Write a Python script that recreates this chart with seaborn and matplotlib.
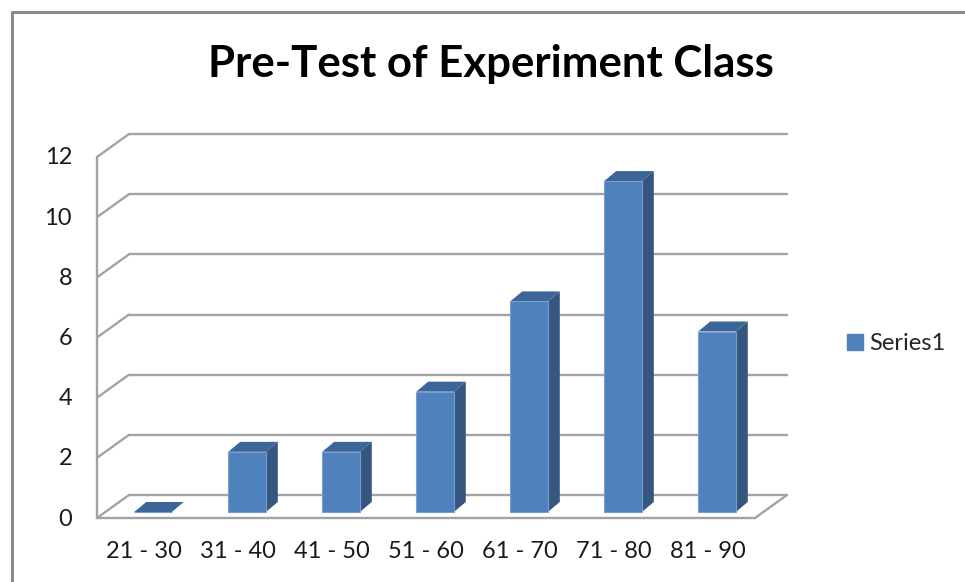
import numpy as np
import pandas as pd
import seaborn as sns
import matplotlib.pyplot as plt
from matplotlib.patches import Polygon, Patch
from matplotlib.lines import Line2D

# data (Excel 3D column chart)
categories = ['21 - 30', '31 - 40', '41 - 50', '51 - 60', '61 - 70', '71 - 80', '81 - 90']
values = [0, 2, 2, 4, 7, 11, 6]
yticks = [0, 2, 4, 6, 8, 10, 12]
series_name = 'Series1'
title = 'Pre-Test of Experiment Class'

sns.set_style('white')
plt.rcParams['font.family'] = ['Lato', 'DejaVu Sans']

W, H = 965, 582
fig = plt.figure(figsize=(W / 100, H / 100), dpi=100)
# axes = the plane of the bar front faces
ax = fig.add_axes([106 / W, 70 / H, 658 / W, 361 / H])

df = pd.DataFrame({'range': categories, 'count': values})
sns.barplot(data=df, x='range', y='count', color='#4F81BD', saturation=1,
            width=0.4, ax=ax, zorder=3, edgecolor='#7a9fcf', linewidth=0.8)
ax.set_xlim(-0.5, 6.5)
ax.set_ylim(0, 12)
ax.axis('off')

# pixels per data unit, to fake the 3d depth
ux = 658 / 7
uy = 361 / 12


def pt(x, y, dx=0, dy=0):
    return (x + dx / ux, y + dy / uy)


FRONT = (-9, -6)
BACK = (23, 17)
DEPTH = (12, 10)
grid_c = '#a3a3a3'
lw = 1.7

# back wall gridlines + left wall diagonals
for v in yticks:
    a, b = pt(-0.5, v, *BACK), pt(6.5, v, *BACK)
    ax.add_line(Line2D([a[0], b[0]], [a[1], b[1]], color=grid_c, lw=lw, clip_on=False, zorder=1))
    c = pt(-0.5, v, *FRONT)
    ax.add_line(Line2D([c[0], a[0]], [c[1], a[1]], color=grid_c, lw=lw, clip_on=False, zorder=1))
    ax.text(*pt(-0.5, v, FRONT[0] - 25, FRONT[1] - 1), str(v), ha='right', va='center',
            fontsize=17, color='#1a1a1a')

# front left edge, floor front edge, floor right edge
p0, p1 = pt(-0.5, 0, *FRONT), pt(-0.5, 12, *FRONT)
ax.add_line(Line2D([p0[0], p1[0]], [p0[1], p1[1]], color=grid_c, lw=lw, clip_on=False, zorder=1))
p2 = pt(6.5, 0, *FRONT)
ax.add_line(Line2D([p0[0], p2[0]], [p0[1], p2[1]], color=grid_c, lw=lw, clip_on=False, zorder=1))
p3 = pt(6.5, 0, *BACK)
ax.add_line(Line2D([p2[0], p3[0]], [p2[1], p3[1]], color=grid_c, lw=lw, clip_on=False, zorder=1))

# side and top faces of the columns
for p in list(ax.patches):
    x0, w, h = p.get_x(), p.get_width(), p.get_height()
    side = [(x0 + w, 0), (x0 + w, h), pt(x0 + w, h, *DEPTH), pt(x0 + w, 0, *DEPTH)]
    top = [(x0, h), (x0 + w, h), pt(x0 + w, h, *DEPTH), pt(x0, h, *DEPTH)]
    ax.add_patch(Polygon(side, closed=True, fc='#34567f', ec='none', clip_on=False, zorder=2))
    ax.add_patch(Polygon(top, closed=True, fc='#3d6698', ec='none', clip_on=False, zorder=2))
    p.set_clip_on(False)

for i, lab in enumerate(categories):
    ax.text(*pt(i, 0, FRONT[0], FRONT[1] - 33), lab, ha='center', va='center',
            fontsize=17, color='#1a1a1a')

fig.text(491 / W, 1 - 64 / H, title, ha='center', va='center', fontsize=31.5,
         fontweight='bold', color='black')

fig.legend(handles=[Patch(color='#4F81BD', label=series_name)], loc='center left',
           bbox_to_anchor=(826 / W, 1 - 344 / H), frameon=False, fontsize=17,
           handlelength=0.65, handleheight=0.65, handletextpad=0.3)

# chart area border
fig.add_artist(Line2D([12 / W, 12 / W, 1], [0, 1 - 12 / H, 1 - 12 / H], color='#8a8a8a', lw=2.2,
                      transform=fig.transFigure))

fig.savefig('out.png', dpi=100)
